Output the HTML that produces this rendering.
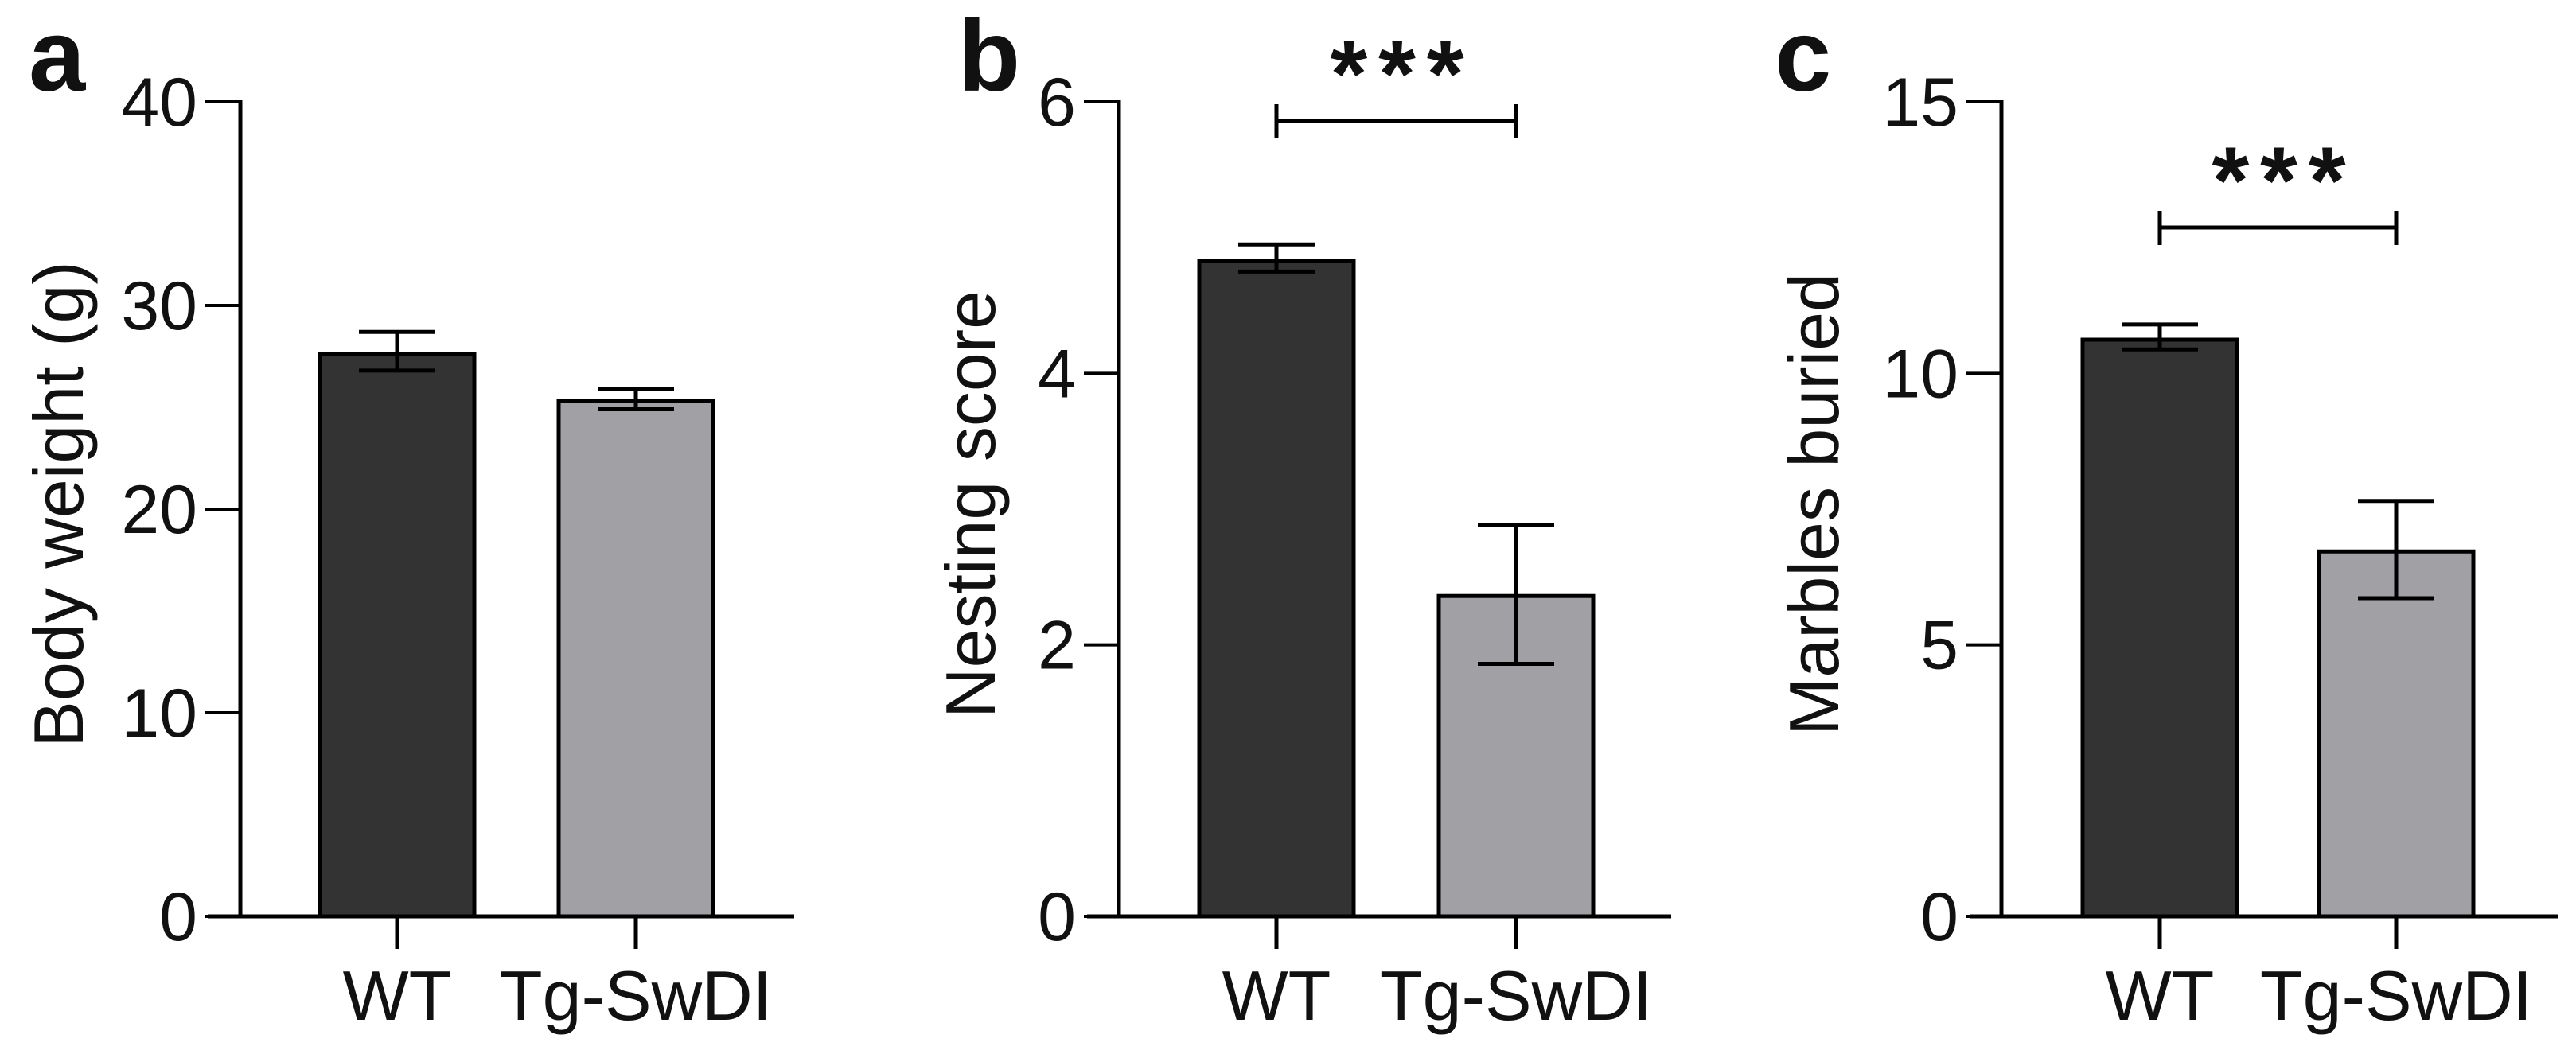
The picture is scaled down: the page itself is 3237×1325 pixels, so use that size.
<!DOCTYPE html>
<html><head><meta charset="utf-8"><style>
html,body{margin:0;padding:0;background:#fff;}
svg{display:block;font-family:"Liberation Sans",Arial,sans-serif;}
</style></head><body>
<svg id="fig" width="3237" height="1325" viewBox="0 0 3237 1325" xmlns="http://www.w3.org/2000/svg"></svg>
<script>
const categories = ["WT", "Tg-SwDI"];
const weightMeans = [27.6, 25.3];
const weightErrHi = [28.7, 25.9];
const weightErrLo = [26.8, 24.9];
const nestMeans = [4.83, 2.36];
const nestErrHi = [4.95, 2.88];
const nestErrLo = [4.75, 1.86];
const marbleMeans = [10.62, 6.72];
const marbleErrHi = [10.9, 7.65];
const marbleErrLo = [10.44, 5.86];
const weightTicks = [0, 10, 20, 30, 40];
const nestTicks = [0, 2, 4, 6];
const marbleTicks = [0, 5, 10, 15];

const NS = "http://www.w3.org/2000/svg";
const svg = document.getElementById("fig");
function mk(tag, attrs, parent) {
  const e = document.createElementNS(NS, tag);
  for (const k in attrs) e.setAttribute(k, attrs[k]);
  (parent || svg).appendChild(e);
  return e;
}
const Y0 = 1152, YTOP = 128;
const fills = ["#333333", "#a1a1a5"];

function panel(cfg) {
  const g = mk("g", {});
  
  
  const ymax = cfg.ticks[cfg.ticks.length - 1];
  const ys = v => Y0 - (v / ymax) * (Y0 - YTOP);
  const xs = i => cfg.catX[i];
  const L = mk("text", {x: cfg.letterX, y: 114, "font-size": 128, "font-weight": "bold", fill: "#111"}, g);
  L.textContent = cfg.letter;
  
  
  const T = mk("text", {x: 0, y: 0, "font-size": 88, "text-anchor": "middle", fill: "#111",
    transform: `translate(${cfg.titleX},634) rotate(-90)`}, g);
  T.textContent = cfg.title;
  
  
  for (let i = 0; i < categories.length; i++) {
    const cx = xs(i), w = 194;
    const top = ys(cfg.means[i]);
    const r = mk("rect", {x: cx - w / 2, y: top, width: w, height: Y0 - top, fill: fills[i], stroke: "#000", "stroke-width": 5}, g);
    
    
    const hi = ys(cfg.hi[i]), lo = ys(cfg.lo[i]);
    const eg = mk("g", {stroke: "#000", "stroke-width": 5}, g);
    
    
    mk("line", {x1: cx, x2: cx, y1: hi, y2: lo}, eg);
    mk("line", {x1: cx - 48, x2: cx + 48, y1: hi, y2: hi}, eg);
    mk("line", {x1: cx - 48, x2: cx + 48, y1: lo, y2: lo}, eg);
    const ct = mk("line", {x1: cx, x2: cx, y1: Y0, y2: 1193, stroke: "#000", "stroke-width": 5}, g);
    
    
    const cl = mk("text", {x: cx, y: 1282, "font-size": 88, "text-anchor": "middle", fill: "#111"}, g);
    cl.textContent = categories[i];
    
    
  }
  const ya = mk("line", {x1: cfg.axisX, x2: cfg.axisX, y1: YTOP - 2, y2: Y0 + 2, stroke: "#000", "stroke-width": 5}, g);
  
  
  const xa = mk("line", {x1: cfg.axisX - 40, x2: cfg.axisEnd, y1: Y0, y2: Y0, stroke: "#000", "stroke-width": 5}, g);
  
  
  for (const t of cfg.ticks) {
    const y = ys(t);
    const tl = mk("line", {x1: cfg.axisX - 44, x2: cfg.axisX, y1: y, y2: y, stroke: "#000", "stroke-width": 4}, g);
    
    
    const tt = mk("text", {x: cfg.axisX - 54, y: y + 30, "font-size": 86, "text-anchor": "end", fill: "#111"}, g);
    tt.textContent = t;
    
    
  }
  if (cfg.sigY) {
    const sg = mk("g", {stroke: "#000", "stroke-width": 5}, g);
    
    
    mk("line", {x1: xs(0), x2: xs(1), y1: cfg.sigY, y2: cfg.sigY}, sg);
    mk("line", {x1: xs(0), x2: xs(0), y1: cfg.sigY - 21, y2: cfg.sigY + 22}, sg);
    mk("line", {x1: xs(1), x2: xs(1), y1: cfg.sigY - 21, y2: cfg.sigY + 22}, sg);
    const st = mk("text", {x: (xs(0) + xs(1)) / 2 + 8, y: cfg.sigY - 18, "font-size": 120, "font-weight": "bold", "letter-spacing": 14, "text-anchor": "middle", fill: "#111"}, g);
    st.textContent = "***";
    
    
  }
}
panel({letter: "a", letterX: 36, title: "Body weight (g)", titleX: 104, axisX: 302, axisEnd: 998,
  catX: [499, 799], ticks: weightTicks, means: weightMeans, hi: weightErrHi, lo: weightErrLo});
panel({letter: "b", letterX: 1204, title: "Nesting score", titleX: 1250, axisX: 1406, axisEnd: 2100,
  catX: [1604, 1905], ticks: nestTicks, means: nestMeans, hi: nestErrHi, lo: nestErrLo, sigY: 152});
panel({letter: "c", letterX: 2230, title: "Marbles buried", titleX: 2310, axisX: 2515, axisEnd: 3214,
  catX: [2714, 3011], ticks: marbleTicks, means: marbleMeans, hi: marbleErrHi, lo: marbleErrLo, sigY: 286});
</script>
</body></html>
